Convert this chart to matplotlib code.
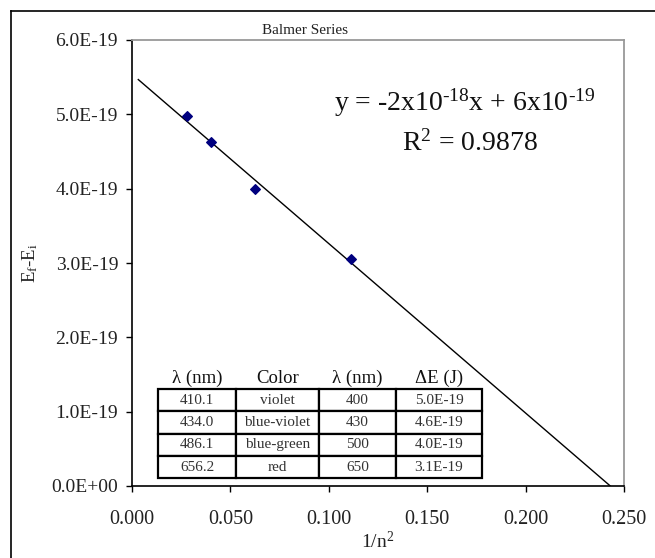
import numpy as np
import matplotlib
matplotlib.use('Agg')
import matplotlib.pyplot as plt
from matplotlib.lines import Line2D

# ======================
# DATA
# ======================
inv_n2 = [1 / 36, 1 / 25, 1 / 16, 1 / 9]
delta_e = [4.98e-19, 4.63e-19, 3.99e-19, 3.06e-19]

table_header = ['\u03bb (nm)', 'Color', '\u03bb (nm)', '\u0394E (J)']
wavelength = ['410.1', '434.0', '486.1', '656.2']
color_name = ['violet', 'blue-violet', 'blue-green', 'red']
wavelength_round = ['400', '430', '500', '650']
energy_str = ['5.0E-19', '4.6E-19', '4.0E-19', '3.1E-19']

x_ticks = [0.0, 0.05, 0.10, 0.15, 0.20, 0.25]
y_ticks = [0.0, 1e-19, 2e-19, 3e-19, 4e-19, 5e-19, 6e-19]

# ======================
# STYLE
# ======================
plt.rcParams['font.family'] = ['Liberation Serif', 'DejaVu Serif']
plt.rcParams['mathtext.fontset'] = 'custom'
plt.rcParams['mathtext.rm'] = 'Liberation Serif'
plt.rcParams['mathtext.it'] = 'Liberation Serif'

fig = plt.figure(figsize=(6.55, 5.58), dpi=100)
ax = fig.add_axes([132 / 655, 1 - 486 / 558, 492 / 655, 446 / 558])

# outer chart frame (only left and top show)
fig.add_artist(Line2D([11 / 655, 11 / 655], [-0.1, 1 - 10.5 / 558],
                      transform=fig.transFigure, color='black', lw=1.2))
fig.add_artist(Line2D([11 / 655, 1.1], [1 - 10.5 / 558, 1 - 10.5 / 558],
                      transform=fig.transFigure, color='black', lw=1.2))

# ======================
# POINTS AND TRENDLINE
# ======================
ax.scatter(inv_n2, delta_e, marker='D', s=24, color='#00007f', zorder=3)

slope, intercept = np.polyfit(inv_n2, delta_e, 1)
x_end = -intercept / slope
x_fit = np.array([0.0032, x_end])
ax.plot(x_fit, slope * x_fit + intercept, color='black', lw=1.0, zorder=2)

ax.set_xlim(0, 0.25)
ax.set_ylim(0, 6e-19)
ax.set_xticks(x_ticks)
ax.set_xticklabels([f'{v:.3f}' for v in x_ticks])
ax.set_yticks(y_ticks)
ax.set_yticklabels([f'{v / 1e-19:.1f}E-19' if v > 0 else '0.0E+00' for v in y_ticks])
ax.tick_params(direction='out', length=4, width=1, labelcolor='#222222')
ax.tick_params(axis='x', labelsize=14.5, pad=13)
ax.tick_params(axis='y', labelsize=14, pad=6)

for side in ['top', 'right']:
    ax.spines[side].set_color('#999999')
    ax.spines[side].set_linewidth(1.3)
for side in ['left', 'bottom']:
    ax.spines[side].set_linewidth(1.2)

ax.set_xlabel('1/n$^2$', fontsize=14, color='#222222', labelpad=2)
ax.set_ylabel('E$_f$-E$_i$', fontsize=13.5, color='#222222', labelpad=8)
fig.text(305 / 655, 1 - 31 / 558, 'Balmer Series', fontsize=11, ha='center',
         va='center', color='#222222')

# ======================
# EQUATION
# ======================
ax.text(0.675, 0.859, r'y = -2x10$^{\text{-18}}$x + 6x10$^{\text{-19}}$',
        transform=ax.transAxes, fontsize=20, ha='center', va='center',
        color='#111111')
ax.text(0.687, 0.769, r'R$^2$ = 0.9878', transform=ax.transAxes,
        fontsize=20, ha='center', va='center', color='#111111')

# ======================
# TABLE
# ======================
rows = [table_header] + [list(r) for r in zip(wavelength, color_name,
                                              wavelength_round, energy_str)]
widths = np.array([77.4, 83.3, 77.0, 85.7])
tbl = ax.table(cellText=rows, cellLoc='center',
               colWidths=list(widths / widths.sum()),
               bbox=[0.0535, 0.0173, 0.6575, 0.2497])
tbl.auto_set_font_size(False)
for (r, c), cell in tbl.get_celld().items():
    cell.set_linewidth(1.6)
    cell.set_facecolor('white')
    if r == 0:
        cell.visible_edges = ''
        cell.get_text().set_fontsize(13.5)
        cell.get_text().set_color('#111111')
    else:
        cell.get_text().set_fontsize(11)
        cell.get_text().set_color('#333333')

fig.savefig('out.png', dpi=100)
